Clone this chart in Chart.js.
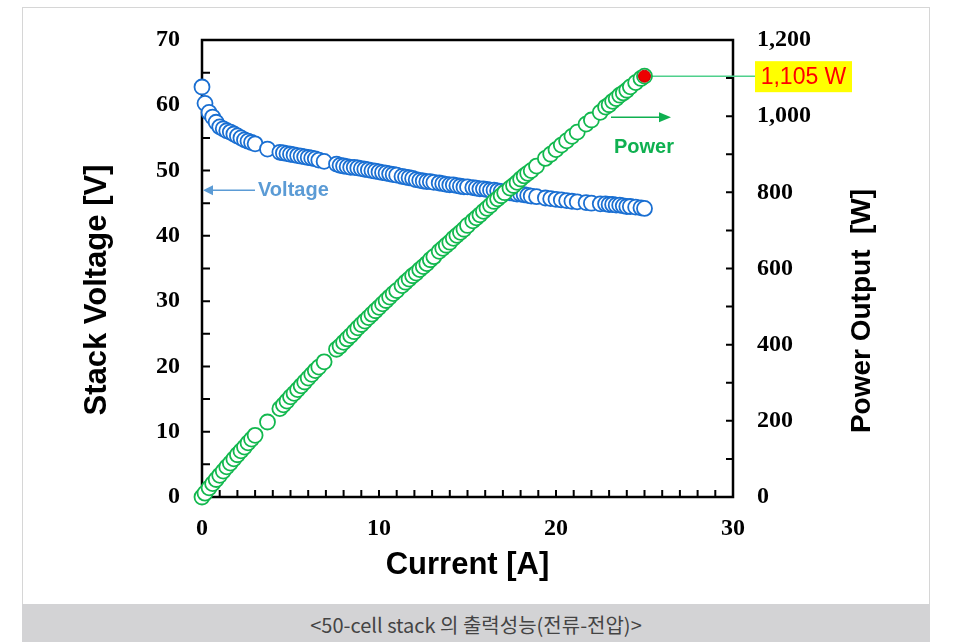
<!DOCTYPE html>
<html>
<head>
<meta charset="utf-8">
<script src="https://cdn.jsdelivr.net/npm/chart.js@4.4.1/dist/chart.umd.min.js"></script>
<style>
  html, body { margin: 0; padding: 0; background: #fff; }
  body { width: 954px; height: 642px; position: relative; overflow: hidden; }
  #frame { position: absolute; left: 22px; top: 7px; width: 906px; height: 597px; border: 1px solid #d6d6d6; border-bottom: none; }
  #chart { position: absolute; left: 0; top: 0; }
  #caption {
    position: absolute; left: 22px; top: 604px; width: 908px; height: 38px;
    background: #d3d3d5; color: #444; text-align: center;
    font: 20px "Noto Sans CJK KR", sans-serif; line-height: 42px;
  }
</style>
</head>
<body>
<div id="frame"></div>
<canvas id="chart" width="954" height="604"></canvas>
<div id="caption">&lt;50-cell stack 의 출력성능(전류-전압)&gt;</div>
<script>
// measured points (current A, stack voltage V, power W)
const current = [0, 0.17, 0.4, 0.6, 0.8, 1.0, 1.2, 1.4, 1.6, 1.8, 2.0, 2.2, 2.4, 2.6, 2.8, 3.0, 3.7, 4.4, 4.6, 4.8,
  5.0, 5.2, 5.4, 5.6, 5.8, 6.0, 6.2, 6.4, 6.6, 6.9, 7.6, 7.8, 8.0, 8.2, 8.4, 8.6, 8.8, 9.0, 9.2, 9.4,
  9.6, 9.8, 10.0, 10.2, 10.4, 10.6, 10.8, 11.0, 11.3, 11.5, 11.7, 11.9, 12.1, 12.3, 12.5, 12.7, 12.9, 13.1, 13.4, 13.6,
  13.8, 14.0, 14.2, 14.4, 14.6, 14.8, 15.0, 15.3, 15.5, 15.7, 15.9, 16.1, 16.3, 16.5, 16.7, 16.9, 17.1, 17.4, 17.6, 17.8,
  18.0, 18.2, 18.4, 18.6, 18.9, 19.4, 19.7, 20.0, 20.3, 20.6, 20.9, 21.2, 21.7, 22.0, 22.5, 22.8, 23.0, 23.2, 23.4, 23.6,
  23.8, 24.0, 24.2, 24.5, 24.8, 25.0];
const voltage = [62.8, 60.3, 58.9, 58.2, 57.4, 56.7, 56.4, 56.1, 55.9, 55.6, 55.3, 55.0, 54.7, 54.5, 54.3, 54.1, 53.3, 52.8, 52.7, 52.6,
  52.5, 52.4, 52.3, 52.2, 52.1, 52.0, 51.9, 51.8, 51.6, 51.4, 51.0, 50.8, 50.7, 50.6, 50.5, 50.5, 50.4, 50.3, 50.2, 50.1,
  50.0, 49.9, 49.8, 49.7, 49.6, 49.5, 49.4, 49.3, 49.1, 49.0, 48.9, 48.8, 48.6, 48.5, 48.4, 48.3, 48.3, 48.2, 48.1, 48.0,
  47.9, 47.8, 47.8, 47.7, 47.6, 47.5, 47.5, 47.4, 47.3, 47.2, 47.2, 47.1, 47.0, 47.0, 46.9, 46.8, 46.7, 46.6, 46.5, 46.4,
  46.4, 46.3, 46.2, 46.1, 46.0, 45.8, 45.7, 45.6, 45.5, 45.4, 45.3, 45.2, 45.1, 45.0, 44.9, 44.9, 44.8, 44.8, 44.7, 44.7,
  44.6, 44.5, 44.5, 44.4, 44.3, 44.2];
const power = [0, 10, 24, 35, 46, 57, 68, 79, 89, 100, 111, 121, 131, 142, 152, 162, 197, 232, 242, 252,
  263, 272, 282, 292, 302, 312, 322, 332, 341, 355, 388, 396, 406, 415, 424, 434, 444, 453, 462, 471,
  480, 489, 498, 507, 516, 525, 534, 542, 555, 564, 572, 581, 588, 597, 605, 613, 623, 631, 645, 653,
  661, 669, 679, 687, 695, 703, 713, 725, 733, 741, 750, 758, 766, 776, 783, 791, 799, 811, 818, 826,
  835, 843, 850, 857, 869, 889, 900, 912, 924, 935, 947, 958, 979, 990, 1010, 1024, 1030, 1039, 1046, 1055,
  1061, 1068, 1077, 1088, 1099, 1105];

const peakCurrent = 25.0;
const peakPower = 1105;
const peakLabel = "1,105 W";

const xTicks = [0, 10, 20, 30];
const voltageTicks = [0, 10, 20, 30, 40, 50, 60, 70];
const powerTicks = [0, 200, 400, 600, 800, 1000, 1200];

const tickFont = { family: "'Liberation Serif', 'Times New Roman', serif", size: 24, weight: "bold" };
const titleFont = "bold 31px 'Liberation Sans', Arial, sans-serif";

const decorations = {
  id: "decorations",
  beforeDatasetsDraw(chart) {
    const { ctx, chartArea: a, scales: { x, y, y1 } } = chart;
    ctx.save();
    ctx.strokeStyle = "#000";
    ctx.lineWidth = 2.5;
    ctx.strokeRect(a.left, a.top, a.right - a.left, a.bottom - a.top);

    // inside tick marks
    ctx.lineWidth = 2;
    ctx.beginPath();
    for (let v = 5; v < 70; v += 5) {
      const py = y.getPixelForValue(v);
      ctx.moveTo(a.left, py); ctx.lineTo(a.left + 8, py);
    }
    for (let p = 100; p < 1200; p += 100) {
      const py = y1.getPixelForValue(p);
      ctx.moveTo(a.right, py); ctx.lineTo(a.right - 7, py);
    }
    for (let c = 1; c < 30; c++) {
      const px = x.getPixelForValue(c);
      ctx.moveTo(px, a.bottom); ctx.lineTo(px, a.bottom - 7);
    }
    ctx.stroke();

    // leader line to the peak label
    ctx.strokeStyle = "#4fd08c";
    ctx.lineWidth = 1.5;
    ctx.beginPath();
    ctx.moveTo(x.getPixelForValue(peakCurrent), y1.getPixelForValue(peakPower));
    ctx.lineTo(755, y1.getPixelForValue(peakPower));
    ctx.stroke();
    ctx.restore();
  },
  afterDatasetsDraw(chart) {
    const { ctx, chartArea: a, scales: { x, y, y1 } } = chart;
    ctx.save();

    // peak label
    const ly = y1.getPixelForValue(peakPower);
    ctx.fillStyle = "#ffff00";
    ctx.fillRect(755, ly - 15, 97, 31);
    ctx.fillStyle = "#ff0000";
    ctx.font = "23px 'Liberation Sans', Arial, sans-serif";
    ctx.textAlign = "center";
    ctx.textBaseline = "middle";
    ctx.fillText(peakLabel, 803.5, ly + 1);

    // voltage arrow + text
    const vy = y.getPixelForValue(47);
    ctx.strokeStyle = "#5b9bd5";
    ctx.fillStyle = "#5b9bd5";
    ctx.lineWidth = 1.5;
    ctx.beginPath();
    ctx.moveTo(255, vy); ctx.lineTo(a.left + 8, vy);
    ctx.stroke();
    ctx.beginPath();
    ctx.moveTo(a.left + 1, vy); ctx.lineTo(a.left + 11, vy - 5); ctx.lineTo(a.left + 11, vy + 5);
    ctx.closePath(); ctx.fill();
    ctx.font = "bold 20px 'Liberation Sans', Arial, sans-serif";
    ctx.textAlign = "left";
    ctx.fillText("Voltage", 258, vy);

    // power arrow + text
    const py = y1.getPixelForValue(1000) + 1;
    ctx.strokeStyle = "#0fb050";
    ctx.fillStyle = "#0fb050";
    ctx.beginPath();
    ctx.moveTo(611, py); ctx.lineTo(662, py);
    ctx.stroke();
    ctx.beginPath();
    ctx.moveTo(671, py); ctx.lineTo(659, py - 5); ctx.lineTo(659, py + 5);
    ctx.closePath(); ctx.fill();
    ctx.fillText("Power", 614, py + 30);

    // axis titles
    ctx.fillStyle = "#000";
    ctx.font = titleFont;
    ctx.textAlign = "center";
    ctx.fillText("Current [A]", (a.left + a.right) / 2, 565);

    ctx.save();
    ctx.translate(97, 290);
    ctx.rotate(-Math.PI / 2);
    ctx.fillText("Stack Voltage [V]", 0, 0);
    ctx.restore();

    ctx.save();
    ctx.translate(862, 311);
    ctx.rotate(-Math.PI / 2);
    ctx.font = "bold 28px 'Liberation Sans', Arial, sans-serif";
    ctx.fillText("Power Output  [W]", 0, 0);
    ctx.restore();

    ctx.restore();
  }
};

new Chart(document.getElementById("chart"), {
  type: "scatter",
  data: {
    datasets: [
      {
        label: "Peak",
        data: [{ x: peakCurrent, y: peakPower }],
        yAxisID: "y1",
        pointRadius: 6,
        backgroundColor: "#ee0000",
        borderColor: "#c00000",
        borderWidth: 1,
        clip: false,
        order: 0,
      },
      {
        label: "Power",
        data: current.map((c, i) => ({ x: c, y: power[i] })),
        yAxisID: "y1",
        pointRadius: 7.5,
        borderWidth: 1.8,
        backgroundColor: "#fff",
        borderColor: "#12b84e",
        clip: false,
        order: 1,
      },
      {
        label: "Voltage",
        data: current.map((c, i) => ({ x: c, y: voltage[i] })),
        yAxisID: "y",
        pointRadius: 7.5,
        borderWidth: 1.8,
        backgroundColor: "#fff",
        borderColor: "#1a6fd2",
        clip: false,
        order: 2,
      },
    ],
  },
  options: {
    responsive: false,
    animation: false,
    layout: { padding: { top: 40, left: 0, right: 0, bottom: 0 } },
    plugins: { legend: { display: false }, tooltip: { enabled: false } },
    scales: {
      x: {
        type: "linear",
        min: 0,
        max: 30,
        afterBuildTicks: (s) => { s.ticks = xTicks.map((v) => ({ value: v })); },
        afterFit: (s) => { s.height = 107; },
        grid: { display: false, drawTicks: false },
        border: { display: false },
        ticks: { font: tickFont, color: "#000", padding: 17, maxRotation: 0 },
      },
      y: {
        position: "left",
        min: 0,
        max: 70,
        afterBuildTicks: (s) => { s.ticks = voltageTicks.map((v) => ({ value: v })); },
        afterFit: (s) => { s.width = 202; },
        grid: { display: false, drawTicks: false },
        border: { display: false },
        ticks: { font: tickFont, color: "#000", padding: 22 },
      },
      y1: {
        position: "right",
        min: 0,
        max: 1200,
        afterBuildTicks: (s) => { s.ticks = powerTicks.map((v) => ({ value: v })); },
        afterFit: (s) => { s.width = 221; },
        grid: { display: false, drawTicks: false },
        border: { display: false },
        ticks: {
          font: tickFont,
          color: "#000",
          padding: 24,
          callback: (v) => v.toLocaleString("en-US"),
        },
      },
    },
  },
  plugins: [decorations],
});
</script>
</body>
</html>
